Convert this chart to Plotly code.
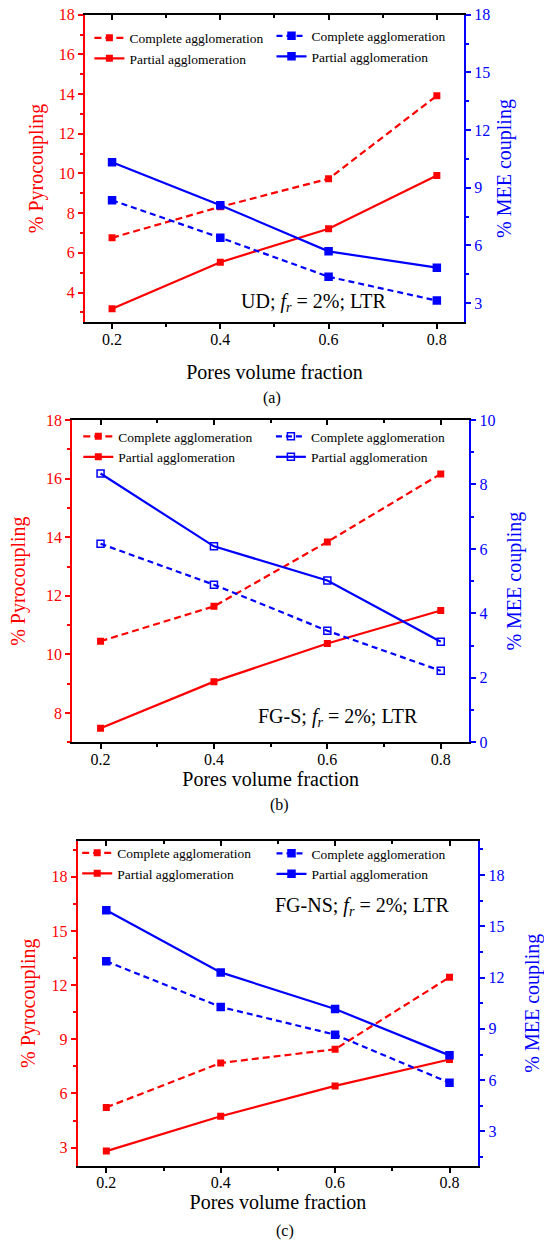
import plotly.graph_objects as go

# ---------------- data ----------------
pores = [0.2, 0.4, 0.6, 0.8]
x_ticks = [0.2, 0.4, 0.6, 0.8]

a_pyro_complete = [6.76, 8.32, 9.73, 13.92]
a_pyro_partial = [3.18, 5.53, 7.21, 9.90]
a_mee_complete = [8.35, 6.40, 4.37, 3.13]
a_mee_partial = [10.32, 8.09, 5.69, 4.84]

b_pyro_complete = [10.45, 11.64, 13.84, 16.16]
b_pyro_partial = [7.48, 9.07, 10.37, 11.50]
b_mee_complete = [6.16, 4.89, 3.46, 2.22]
b_mee_partial = [8.34, 6.08, 5.02, 3.12]

c_pyro_complete = [5.23, 7.69, 8.45, 12.44]
c_pyro_partial = [2.81, 4.74, 6.42, 7.88]
c_mee_complete = [12.95, 10.28, 8.66, 5.85]
c_mee_partial = [15.93, 12.30, 10.16, 7.45]

series_names = ["Complete agglomeration", "Partial agglomeration"]
panel_labels = ["(a)", "(b)", "(c)"]
panel_notes = ["UD", "FG-S", "FG-NS"]
x_title = "Pores volume fraction"
left_title = "% Pyrocoupling"
right_title = "% MEE coupling"

# ---------------- style / layout ----------------
RED = "#FF0000"
BLUE = "#0000FF"
FONT = "Liberation Serif"
W, H = 544, 1243

panels = [
    dict(pyro=(a_pyro_complete, a_pyro_partial), mee=(a_mee_complete, a_mee_partial),
         xdom=(85.0, 463.9), ydom=(14.7, 322.3),
         lrange=[2.5, 18], ldtick=2, lminor=1, rrange=[2, 18], rdtick=3, rminor=1.5,
         bsym="square", legL=(89.4, 22.5), legR=(271.5, 20.5),
         note=(239.4, 302.3), cap=(271.7, 398.3),
         xst=18, lst=10, rst=8),
    dict(pyro=(b_pyro_complete, b_pyro_partial), mee=(b_mee_complete, b_mee_partial),
         xdom=(72.2, 469.1), ydom=(420.0, 742.3),
         lrange=[7, 18], ldtick=2, lminor=1, rrange=[0, 10], rdtick=2, rminor=1,
         bsym="square-open", legL=(78.3, 421.0), legR=(270.9, 421.0),
         note=(256.1, 717.3), cap=(279.3, 804.7),
         xst=2, lst=15, rst=13),
    dict(pyro=(c_pyro_complete, c_pyro_partial), mee=(c_mee_complete, c_mee_partial),
         xdom=(77.7, 478.1), ydom=(840.7, 1165.7),
         lrange=[2, 20], ldtick=3, lminor=1.5, rrange=[1, 20], rdtick=3, rminor=1.5,
         bsym="square", legL=(77.2, 837.5), legR=(271.5, 838.0),
         note=(273.1, 906.0), cap=(284.5, 1231.0),
         xst=2, lst=10, rst=24),
]

fig = go.Figure()
layout = dict(
    width=W, height=H, margin=dict(l=0, r=0, t=0, b=0),
    paper_bgcolor="white", plot_bgcolor="white",
    font=dict(family=FONT, color="black", size=16),
    showlegend=True, annotations=[],
)

def px(x):
    return x / W

def py(y):
    return 1 - y / H

for i, p in enumerate(panels):
    xb = 2 * i + 1   # bottom x axis
    xt = 2 * i + 2   # top (mirror) x axis
    yl = 2 * i + 1   # left y axis
    yr = 2 * i + 2   # right y axis
    xdom = [px(p["xdom"][0]), px(p["xdom"][1])]
    ydom = [py(p["ydom"][1]), py(p["ydom"][0])]
    xb_id = "x" if xb == 1 else f"x{xb}"
    yl_id = "y" if yl == 1 else f"y{yl}"
    legL = "legend" if i == 0 else f"legend{2 * i + 1}"
    legR = f"legend{2 * i + 2}"

    # red (left axis) traces
    for k, (vals, dash) in enumerate(zip(p["pyro"], ["7px,4px", "solid"])):
        fig.add_trace(go.Scatter(
            x=pores, y=vals, name=series_names[k], mode="lines+markers",
            line=dict(color=RED, width=2.2, dash=dash),
            marker=dict(symbol="square", size=7, color=RED),
            xaxis=xb_id, yaxis=yl_id, legend=legL))
    # blue (right axis) traces
    for k, (vals, dash) in enumerate(zip(p["mee"], ["6px,4px", "solid"])):
        fig.add_trace(go.Scatter(
            x=pores, y=vals, name=series_names[k], mode="lines+markers",
            line=dict(color=BLUE, width=2.2, dash=dash),
            marker=dict(symbol=p["bsym"], size=7, color=BLUE,
                        line=dict(color=BLUE, width=1.5)),
            xaxis=xb_id, yaxis=f"y{yr}", legend=legR))
    # empty trace so the top mirror axis exists
    fig.add_trace(go.Scatter(x=[], y=[], xaxis=f"x{xt}", yaxis=yl_id,
                             showlegend=False, hoverinfo="skip"))

    xcommon = dict(range=[0.15, 0.85], domain=xdom, showline=True, linecolor="black",
                   linewidth=2, showgrid=False, zeroline=False, automargin=False,
                   tickmode="array", tickvals=x_ticks, tickformat=".1f")
    layout[f"xaxis{xb}"] = dict(
        xcommon, anchor=f"y{yl}", side="bottom", ticks="outside", ticklen=5,
        tickwidth=1.5, tickcolor="black",
        minor=dict(ticks="outside", ticklen=3, tickcolor="black", tickwidth=1.5,
                   tickmode="array", tickvals=[0.3, 0.5, 0.7]),
        tickfont=dict(size=16, family=FONT, color="black"),
        ticklabelstandoff=-4,
        title=dict(text=x_title, font=dict(size=20, family=FONT, color="black"),
                   standoff=p["xst"]))
    layout[f"xaxis{xt}"] = dict(
        xcommon, anchor=f"y{yl}", side="top", overlaying=xb_id, ticks="inside",
        ticklen=5, tickwidth=1.5, tickcolor="black", showticklabels=False,
        minor=dict(ticks="inside", ticklen=3, tickcolor="black", tickwidth=1.5,
                   tickmode="array", tickvals=[0.3, 0.5, 0.7]))
    layout[f"yaxis{yl}"] = dict(
        range=p["lrange"], domain=ydom, anchor=xb_id, side="left",
        showline=True, linecolor=RED, linewidth=2.2, showgrid=False, zeroline=False,
        automargin=False, ticks="outside", ticklen=5, tickwidth=1.5, tickcolor=RED,
        tick0=0, dtick=p["ldtick"],
        minor=dict(ticks="outside", ticklen=3, tickcolor=RED, tickwidth=1.5,
                   dtick=p["lminor"], tick0=0),
        tickfont=dict(size=16, family=FONT, color=RED),
        title=dict(text=left_title, font=dict(size=20, family=FONT, color=RED),
                   standoff=p["lst"]))
    layout[f"yaxis{yr}"] = dict(
        range=p["rrange"], domain=ydom, anchor=xb_id, side="right",
        overlaying=yl_id, showline=True, linecolor=BLUE, linewidth=2.2,
        showgrid=False, zeroline=False, automargin=False, ticks="outside",
        ticklen=5, tickwidth=1.5, tickcolor=BLUE, tick0=0, dtick=p["rdtick"],
        minor=dict(ticks="outside", ticklen=3, tickcolor=BLUE, tickwidth=1.5,
                   dtick=p["rminor"], tick0=0),
        tickfont=dict(size=16, family=FONT, color=BLUE),
        title=dict(text=right_title, font=dict(size=20, family=FONT, color=BLUE),
                   standoff=p["rst"]))

    legstyle = dict(bgcolor="rgba(0,0,0,0)", borderwidth=0,
                    font=dict(size=13.5, family=FONT, color="black"),
                    xanchor="left", yanchor="top", tracegroupgap=0,
                    itemwidth=30)
    layout[legL] = dict(legstyle, x=px(p["legL"][0]), y=py(p["legL"][1]))
    layout[legR] = dict(legstyle, x=px(p["legR"][0]), y=py(p["legR"][1]))

    layout["annotations"].append(dict(
        text=f"{panel_notes[i]}; <i>f<sub>r</sub></i> = 2%; LTR",
        x=px(p["note"][0]), y=py(p["note"][1]), xref="paper", yref="paper",
        xanchor="left", yanchor="middle", showarrow=False,
        font=dict(size=20, family=FONT, color="black")))
    layout["annotations"].append(dict(
        text=panel_labels[i], x=px(p["cap"][0]), y=py(p["cap"][1]),
        xref="paper", yref="paper", xanchor="center", yanchor="middle",
        showarrow=False, font=dict(size=16, family=FONT, color="black")))

fig.update_layout(**layout)
fig.write_html("out.html")
